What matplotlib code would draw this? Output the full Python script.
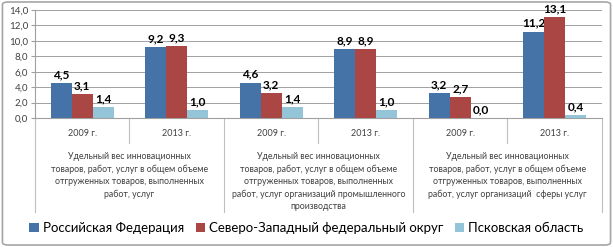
import matplotlib
matplotlib.use('Agg')
import matplotlib.pyplot as plt
from matplotlib.patches import FancyBboxPatch
import matplotlib.transforms as mtransforms
import numpy as np

plt.rcParams['font.family'] = ['Lato', 'DejaVu Sans']

# данные
series = ['Российская Федерация', 'Северо-Западный федеральный округ', 'Псковская область']
colors = ['#4572A7', '#AA4643', '#93C4D8']
years = ['2009 г.', '2013 г.', '2009 г.', '2013 г.', '2009 г.', '2013 г.']
rf = [4.5, 9.2, 4.6, 8.9, 3.2, 11.2]
szfo = [3.1, 9.3, 3.2, 8.9, 2.7, 13.1]
pskov = [1.4, 1.0, 1.4, 1.0, 0.0, 0.4]
categories = [
    'Удельный вес инновационных\nтоваров, работ, услуг в общем объеме\nотгруженных товаров, выполненных\nработ, услуг',
    'Удельный вес инновационных\nтоваров, работ, услуг в общем объеме\nотгруженных товаров, выполненных\nработ, услуг организаций промышленного\nпроизводства',
    'Удельный вес инновационных\nтоваров, работ, услуг в общем объеме\nотгруженных товаров, выполненных\nработ, услуг организаций  сферы услуг',
]
values = [rf, szfo, pskov]

fig = plt.figure(figsize=(6.13, 2.47), dpi=100)
ax = fig.add_axes([0.057, 0.522, 0.925, 0.438])

x = np.arange(len(years)) + 0.5
w = 0.222
for i, (v, c, name) in enumerate(zip(values, colors, series)):
    bars = ax.bar(x + (i - 1) * w, v, w, color=c, label=name, zorder=3)
    for b, val in zip(bars, v):
        ax.text(b.get_x() + b.get_width() / 2, val + 0.35, ('%.1f' % val).replace('.', ','),
                ha='center', va='bottom', fontsize=8.5, fontweight='bold', color='black')

ax.set_xlim(0, 6)
ax.set_ylim(0, 14)
ax.set_yticks(np.arange(0, 15, 2))
ax.set_yticklabels([('%.1f' % t).replace('.', ',') for t in np.arange(0, 15, 2)], fontsize=7, color='#404040')
ax.set_xticks([])
ax.grid(axis='y', color='#A0A0A0', linewidth=0.7, zorder=0)
for s in ['top', 'right']:
    ax.spines[s].set_visible(False)
ax.spines['left'].set_color('#A0A0A0')
ax.spines['bottom'].set_color('#A0A0A0')
ax.tick_params(axis='y', length=3, color='#A0A0A0', pad=2)

# подписи оси X
trans = mtransforms.blended_transform_factory(ax.transData, ax.transAxes)
for xi, yr in zip(x, years):
    ax.text(xi, -0.14, yr, transform=trans, ha='center', va='center', fontsize=6.5, color='#404040')
for k, cat in enumerate(categories):
    ax.text(2 * k + 1, -0.31, cat, transform=trans, ha='center', va='top', fontsize=6.3,
            color='#404040', linespacing=1.5)
for xs in range(0, 7):
    ybot = -0.87 if xs % 2 == 0 else -0.23
    ax.plot([xs, xs], [0, ybot], transform=trans, color='#BFBFBF', linewidth=0.8, clip_on=False)

leg = fig.legend(loc='center', bbox_to_anchor=(0.5, 0.077), ncol=3, frameon=False, fontsize=9.5,
                 handlelength=0.7, handleheight=0.7, handletextpad=0.3, columnspacing=0.9)

fig.patches.append(FancyBboxPatch((0.004, 0.008), 0.992, 0.984, boxstyle='round,pad=0,rounding_size=0.01',
                                  transform=fig.transFigure, fill=False, edgecolor='#A6A6A6', linewidth=1.2))

fig.savefig('out.png', dpi=100)
